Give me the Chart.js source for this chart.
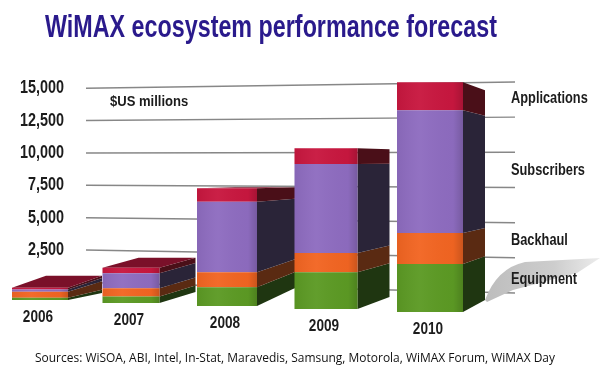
<!DOCTYPE html>
<html>
<head>
<meta charset="utf-8">
<style>
  html, body { margin: 0; padding: 0; background: #fff; }
  #wrap { width: 600px; height: 371px; }
</style>
<script src="https://cdn.jsdelivr.net/npm/chart.js@4/dist/chart.umd.js"></script>
</head>
<body>
<div id="wrap"><canvas id="chart"></canvas></div>
<script>
const categories = ['2006', '2007', '2008', '2009', '2010'];
const equipment = [150, 430, 1220, 2400, 3130];
const backhaul = [390, 540, 980, 1260, 2020];
const subscribers = [150, 980, 4610, 5800, 8020];
const applications = [110, 350, 870, 1040, 1830];
const wallTicks = [2500, 5000, 7500, 10000, 12500, 15000];

const titleText = 'WiMAX ecosystem performance forecast';
const unitText = '$US millions';
const sourcesText = 'Sources: WiSOA, ABI, Intel, In-Stat, Maravedis, Samsung, Motorola, WiMAX Forum, WiMAX Day';

// fake 3D: how each bar sits in the perspective of the original
const faceWidth = [56, 57, 60, 63, 66];
const centreNudge = [-24, -23, -17, -8, 6];
const baseLift = [12, 9, 6, 3, 0];
const sideDepth = [34, 36, 38, 32, 22];
const topDrop = [-12, -10, -1, 1, 8];
const bottomDrop = [-7, -11, -18, -12, -12];

const labelFont = '"Liberation Sans", sans-serif';
const sideColors = ['#1f3611', '#5a2a12', '#2a2438', '#4a0f18'];
const topColor = '#7a1029';
const legendY = [280, 241, 171, 99];

// no narrow font installed, so squeeze the text to the width it has in the original
function squeezed(ctx, text, x, y, factor) {
  ctx.fillText(text, x, y, ctx.measureText(text).width * factor);
}

const perspective = {
  id: 'perspective',
  afterLayout(chart) {
    chart.titleBlock.left = 45;
    chart.titleBlock.right = 497;
  },
  afterDatasetsUpdate(chart) {
    chart.data.datasets.forEach((ds, d) => {
      chart.getDatasetMeta(d).data.forEach((bar, i) => {
        bar.x += centreNudge[i];
        bar.width = faceWidth[i];
        bar.y -= baseLift[i];
        bar.base -= baseLift[i];
      });
    });
  },
  beforeDatasetsDraw(chart) {
    const ctx = chart.ctx;
    const wall = chart.scales.y;
    ctx.save();

    // back wall lines fan out towards the right
    ctx.strokeStyle = 'rgba(105,105,105,0.8)';
    ctx.lineWidth = 1.5;
    [0].concat(wallTicks).forEach(v => {
      ctx.beginPath();
      ctx.moveTo(86, wall.getPixelForValue(v));
      ctx.lineTo(515, 293 - v * 0.01407);
      ctx.stroke();
    });

    // shadow behind last bar
    const grad = ctx.createLinearGradient(485, 0, 600, 0);
    grad.addColorStop(0, '#bdbdbd');
    grad.addColorStop(0.6, '#cdcdcd');
    grad.addColorStop(1, '#ececec');
    ctx.fillStyle = grad;
    ctx.beginPath();
    ctx.moveTo(485, 300);
    ctx.quadraticCurveTo(497, 268, 525, 262);
    ctx.lineTo(600, 258);
    ctx.lineTo(577, 273);
    ctx.lineTo(513, 290);
    ctx.lineTo(487, 302);
    ctx.closePath();
    ctx.fill();

    // side and top faces
    chart.data.datasets.forEach((ds, d) => {
      chart.getDatasetMeta(d).data.forEach((bar, i) => {
        const bottom = chart.getDatasetMeta(0).data[i].base;
        const top = chart.getDatasetMeta(chart.data.datasets.length - 1).data[i].y;
        const backY = y => y + bottomDrop[i] + (y - bottom) / (top - bottom) * (topDrop[i] - bottomDrop[i]);
        const right = bar.x + bar.width / 2;
        ctx.fillStyle = sideColors[d];
        ctx.beginPath();
        ctx.moveTo(right, bar.y);
        ctx.lineTo(right + sideDepth[i], backY(bar.y));
        ctx.lineTo(right + sideDepth[i], backY(bar.base));
        ctx.lineTo(right, bar.base);
        ctx.closePath();
        ctx.fill();
        if (d === chart.data.datasets.length - 1 && topDrop[i] < 0) {
          ctx.fillStyle = topColor;
          ctx.beginPath();
          ctx.moveTo(right - bar.width, top);
          ctx.lineTo(right, top);
          ctx.lineTo(right + sideDepth[i], top + topDrop[i]);
          ctx.lineTo(right - bar.width + sideDepth[i], top + topDrop[i]);
          ctx.closePath();
          ctx.fill();
        }
      });
    });
    ctx.restore();
  },
  afterDatasetsDraw(chart) {
    const ctx = chart.ctx;
    const wall = chart.scales.y;
    ctx.save();

    // soft shading on the front faces
    const first = chart.getDatasetMeta(0).data;
    const last = chart.getDatasetMeta(chart.data.datasets.length - 1).data;
    first.forEach((bar, i) => {
      const left = bar.x - bar.width / 2;
      const sheen = ctx.createLinearGradient(left, 0, left + bar.width, 0);
      sheen.addColorStop(0, 'rgba(0,0,0,0.05)');
      sheen.addColorStop(0.35, 'rgba(255,255,255,0.04)');
      sheen.addColorStop(0.85, 'rgba(0,0,0,0.02)');
      sheen.addColorStop(1, 'rgba(0,0,0,0.16)');
      ctx.fillStyle = sheen;
      ctx.fillRect(left, last[i].y, bar.width, bar.base - last[i].y);
    });

    ctx.fillStyle = '#1c1c1c';
    ctx.textBaseline = 'middle';

    // wall axis labels
    ctx.font = 'bold 18px ' + labelFont;
    ctx.textAlign = 'right';
    wall.ticks.forEach(t => {
      squeezed(ctx, t.label, 64, wall.getPixelForValue(t.value), 0.8);
    });

    // years step down with the bars
    ctx.font = 'bold 17px ' + labelFont;
    ctx.textAlign = 'center';
    categories.forEach((year, i) => {
      squeezed(ctx, year, first[i].x - 2, first[i].base + 17, 0.8);
    });

    ctx.textAlign = 'left';
    ctx.font = 'bold 16px ' + labelFont;
    chart.data.datasets.forEach((ds, d) => {
      squeezed(ctx, ds.label, 511, legendY[d], 0.8);
    });
    ctx.font = 'bold 15px ' + labelFont;
    squeezed(ctx, unitText, 110, 102, 0.87);

    ctx.fillStyle = '#111';
    ctx.font = '13px "Open Sans", sans-serif';
    ctx.fillText(sourcesText, 35, 358, 520);
    ctx.restore();
  }
};

new Chart(document.getElementById('chart'), {
  type: 'bar',
  data: {
    labels: categories,
    datasets: [
      { label: 'Equipment', data: equipment, backgroundColor: '#5c9a24' },
      { label: 'Backhaul', data: backhaul, backgroundColor: '#f26522' },
      { label: 'Subscribers', data: subscribers, backgroundColor: '#8e6cc0' },
      { label: 'Applications', data: applications, backgroundColor: '#c8173f' }
    ].map(ds => ({ ...ds, yAxisID: 'front', clip: false, borderWidth: 0 }))
  },
  options: {
    responsive: true,
    maintainAspectRatio: false,
    animation: false,
    events: [],
    layout: { padding: { bottom: 59 } },
    plugins: {
      legend: { display: false },
      tooltip: { enabled: false },
      title: {
        display: true,
        text: titleText,
        color: '#2a1a8c',
        font: { family: labelFont, size: 31, weight: 'bold' },
        padding: { top: 10, bottom: 35 }
      }
    },
    scales: {
      x: {
        display: false,
        stacked: true,
        offset: false
      },
      // wall scale, only for the labels on the left and the lines
      y: {
        position: 'left',
        min: -2284,
        max: 15463,
        afterBuildTicks(scale) { scale.ticks = wallTicks.map(value => ({ value })); },
        afterFit(scale) { scale.width = 64; },
        grid: { display: false, drawTicks: false },
        border: { display: false },
        ticks: {
          display: false,
          callback: v => v.toLocaleString('en-US')
        }
      },
      // front face scale, the bars use this one
      front: {
        position: 'right',
        stacked: true,
        min: 0,
        max: 15000,
        afterFit(scale) { scale.width = 176; },
        grid: { display: false, drawTicks: false },
        border: { display: false },
        ticks: { display: false }
      }
    }
  },
  plugins: [perspective]
});
</script>
</body>
</html>
